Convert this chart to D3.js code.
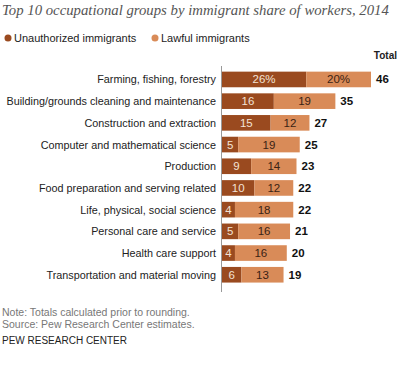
<!DOCTYPE html>
<html><head><meta charset="utf-8">
<script src="https://cdn.jsdelivr.net/npm/d3@7/dist/d3.min.js"></script>
<style>body{margin:0;background:#fff}svg{display:block}</style>
</head><body>
<svg id="c" width="400" height="366"></svg>
<script>
const categories = ["Farming, fishing, forestry","Building/grounds cleaning and maintenance","Construction and extraction","Computer and mathematical science","Production","Food preparation and serving related","Life, physical, social science","Personal care and service","Health care support","Transportation and material moving"];
const unauthorized = [26,16,15,5,9,10,4,5,4,6];
const lawful = [20,19,12,19,14,12,18,16,16,13];
const totals = [46,35,27,25,23,22,22,21,20,19];
const seriesNames = ["Unauthorized immigrants","Lawful immigrants"];
const colors = ["#9a4a1f","#d98b58"];

const svg = d3.select("#c");
const font = "'Liberation Sans', Arial, sans-serif";
const title = svg.append("text").attr("x",2).attr("y",15).attr("font-family","'Liberation Serif', 'DejaVu Serif', serif").attr("font-style","italic")
  .attr("font-size",16).attr("fill","#555")
  .text("Top 10 occupational groups by immigrant share of workers, 2014");
// shrink font to fit the reference width if needed
const tw = title.node().getComputedTextLength();
if (tw > 387) title.attr("font-size", 16*387/tw);

const legX=[8,155];
seriesNames.forEach((n,i)=>{
  svg.append("circle").attr("cx",legX[i]).attr("cy",38).attr("r",3.5).attr("fill",colors[i]);
  svg.append("text").attr("x",legX[i]+6).attr("y",42).attr("font-family",font).attr("font-size",11).attr("fill","#222").text(n);
});
svg.append("text").attr("x",397).attr("y",59).attr("text-anchor","end").attr("font-family",font).attr("font-size",10).attr("font-weight","bold").attr("fill","#222").text("Total");

const x0=222;
const x = d3.scaleLinear().domain([0,46]).range([x0,371]);
const y = d3.scaleBand().domain(categories).range([68.6,285.6]).paddingInner(0.28).paddingOuter(0.14);

const g = svg.append("g");
categories.forEach((c,i)=>{
  const yy=y(c), h=y.bandwidth();
  const u=unauthorized[i], l=lawful[i];
  g.append("rect").attr("x",x(0)).attr("y",yy).attr("width",x(u)-x(0)).attr("height",h).attr("fill",colors[0]);
  g.append("rect").attr("x",x(u)).attr("y",yy).attr("width",x(u+l)-x(u)).attr("height",h).attr("fill",colors[1]);
  const suf = i===0?"%":"";
  g.append("text").attr("x",(x(0)+x(u))/2).attr("y",yy+h/2+4).attr("text-anchor","middle").attr("font-family",font).attr("font-size",11.5).attr("fill","#f3e3d6").text(u+suf);
  g.append("text").attr("x",(x(u)+x(u+l))/2).attr("y",yy+h/2+4).attr("text-anchor","middle").attr("font-family",font).attr("font-size",11.5).attr("fill","#3a2214").text(l+suf);
  g.append("text").attr("x",x(u+l)+5).attr("y",yy+h/2+4).attr("font-family",font).attr("font-size",11.5).attr("font-weight","bold").attr("fill","#111").text(totals[i]);
  g.append("text").attr("x",216).attr("y",yy+h/2+4).attr("text-anchor","end").attr("font-family",font).attr("font-size",10.8).attr("fill","#222").text(c);
});
svg.append("line").attr("x1",x0-0.5).attr("x2",x0-0.5).attr("y1",66).attr("y2",292).attr("stroke","#999").attr("stroke-width",1);

svg.append("text").attr("x",2).attr("y",316).attr("font-family",font).attr("font-size",10.5).attr("fill","#777").text("Note: Totals calculated prior to rounding.");
svg.append("text").attr("x",2).attr("y",327.5).attr("font-family",font).attr("font-size",10.5).attr("fill","#777").text("Source: Pew Research Center estimates.");
svg.append("text").attr("x",2).attr("y",343.5).attr("font-family",font).attr("font-size",10).attr("fill","#222").text("PEW RESEARCH CENTER");
</script>
</body></html>
